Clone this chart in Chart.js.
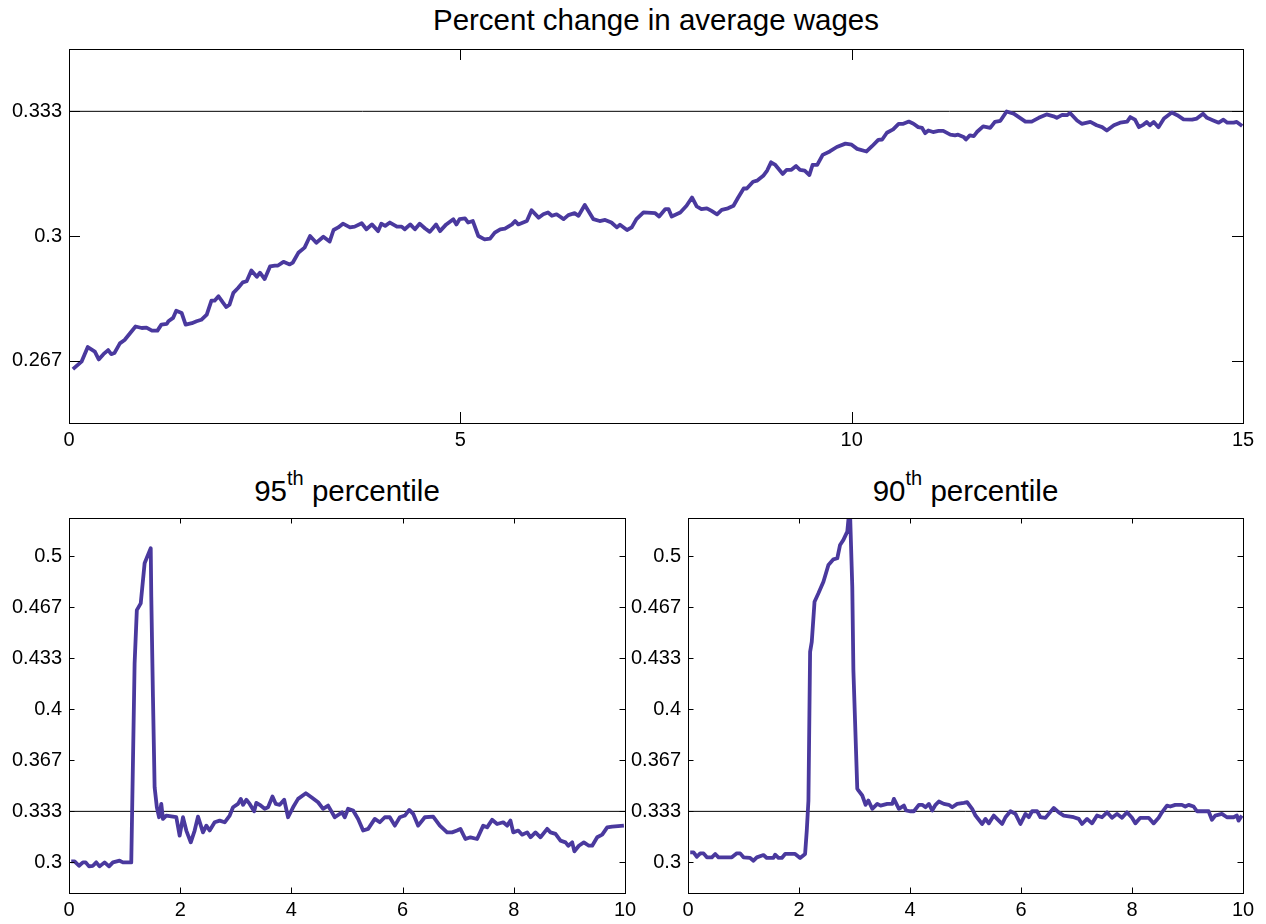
<!DOCTYPE html>
<html>
<head>
<meta charset="utf-8">
<script src="https://cdn.jsdelivr.net/npm/chart.js@4/dist/chart.umd.min.js"></script>
<style>
    body { margin: 0; background: #fff; width: 1266px; height: 924px; position: relative; overflow: hidden;
           font-family: "Liberation Sans", Arial, Helvetica, sans-serif; }
    .titulo { position: absolute; font-size: 29.5px; line-height: 29px; color: #000; text-align: center; white-space: nowrap; }
    .titulo sup { font-size: 20px; vertical-align: baseline; position: relative; top: -16px; line-height: 0; }
    canvas { position: absolute; }
</style>
</head>
<body>
<div class="titulo" style="left:69px;width:1174px;top:5px">Percent change in average wages</div>
<div class="titulo" style="left:69px;width:556px;top:476px">95<sup>th</sup> percentile</div>
<div class="titulo" style="left:688px;width:555px;top:476px">90<sup>th</sup> percentile</div>

<canvas id="graficoPromedio" width="1266" height="420" style="left:0;top:40px"></canvas>
<canvas id="grafico95" width="640" height="416" style="left:0;top:508px"></canvas>
<canvas id="grafico90" width="648" height="416" style="left:618px;top:508px"></canvas>

<script>
// Percent change in average wages (time 0..15)
const tiempoPromedio = [0.05,0.16,0.24,0.33,0.38,0.44,0.50,0.54,0.58,0.65,0.71,0.78,0.85,0.93,0.99,1.06,1.13,1.18,1.25,1.27,
    1.33,1.37,1.44,1.49,1.57,1.63,1.69,1.76,1.82,1.86,1.91,1.97,2.01,2.05,2.10,2.16,2.22,2.27,2.33,2.40,
    2.44,2.50,2.57,2.63,2.67,2.74,2.82,2.86,2.93,3.01,3.08,3.16,3.25,3.33,3.38,3.44,3.50,
    3.59,3.65,3.74,3.80,3.87,3.95,3.99,4.04,4.10,4.19,4.25,4.29,4.36,4.42,4.48,4.55,4.61,4.69,4.74,4.82,
    4.91,4.95,4.99,5.06,5.10,5.16,5.23,5.31,5.38,5.44,5.51,5.57,5.66,5.70,5.74,5.85,5.91,6.00,6.06,6.12,
    6.17,6.23,6.32,6.38,6.46,6.51,6.59,6.70,6.78,6.85,6.93,7.00,7.04,7.13,7.19,7.25,7.34,7.49,7.54,7.62,
    7.66,7.70,7.81,7.89,7.96,8.02,8.08,8.15,8.21,8.28,8.34,8.42,8.49,8.55,8.62,8.66,8.74,8.79,8.87,8.92,
    8.97,9.02,9.12,9.17,9.23,9.29,9.34,9.40,9.46,9.50,9.56,9.63,9.72,9.81,9.92,10.00,10.07,10.19,10.26,10.34,
    10.39,10.45,10.53,10.60,10.66,10.73,10.79,10.85,10.90,10.94,10.98,11.04,11.11,11.17,11.26,11.32,11.36,11.43,11.46,11.51,
    11.56,11.60,11.68,11.77,11.83,11.90,11.98,12.07,12.15,12.22,12.30,12.39,12.49,12.58,12.62,12.69,12.75,12.79,12.88,12.94,
    13.05,13.13,13.20,13.26,13.35,13.43,13.52,13.56,13.62,13.67,13.73,13.77,13.81,13.86,13.92,13.99,14.09,14.16,14.24,14.35,
    14.41,14.49,14.54,14.62,14.69,14.75,14.80,14.88,14.92,14.99];
const valorPromedio = [0.2644,0.2664,0.2703,0.2691,0.2670,0.2684,0.2695,0.2684,0.2687,0.2713,0.2722,0.2740,0.2758,0.2754,0.2755,0.2747,0.2747,0.2763,0.2765,0.2772,
    0.2781,0.2800,0.2794,0.2763,0.2767,0.2772,0.2776,0.2790,0.2827,0.2827,0.2839,0.2821,0.2810,0.2816,0.2848,0.2861,0.2876,0.2879,0.2908,0.2891,
    0.2902,0.2885,0.2919,0.2921,0.2921,0.2931,0.2924,0.2929,0.2955,0.2969,0.3000,0.2982,0.2998,0.2985,0.3016,0.3023,0.3033,
    0.3023,0.3025,0.3034,0.3018,0.3031,0.3013,0.3033,0.3027,0.3036,0.3025,0.3025,0.3018,0.3031,0.3018,0.3033,0.3020,0.3011,0.3031,0.3013,0.3031,
    0.3045,0.3031,0.3045,0.3047,0.3036,0.3040,0.3000,0.2991,0.2993,0.3009,0.3018,0.3020,0.3031,0.3040,0.3031,0.3040,0.3069,0.3049,0.3058,0.3063,
    0.3054,0.3058,0.3045,0.3056,0.3061,0.3054,0.3083,0.3045,0.3040,0.3043,0.3036,0.3023,0.3030,0.3016,0.3023,0.3045,0.3063,0.3061,0.3052,0.3072,
    0.3072,0.3052,0.3063,0.3081,0.3103,0.3079,0.3072,0.3074,0.3067,0.3058,0.3070,0.3074,0.3081,0.3103,0.3127,0.3127,0.3145,0.3148,0.3161,0.3175,
    0.3197,0.3191,0.3166,0.3177,0.3177,0.3187,0.3177,0.3175,0.3163,0.3190,0.3190,0.3217,0.3226,0.3238,0.3247,0.3244,0.3233,0.3226,0.3240,0.3257,
    0.3258,0.3276,0.3285,0.3300,0.3300,0.3306,0.3300,0.3291,0.3289,0.3275,0.3282,0.3278,0.3281,0.3281,0.3271,0.3269,0.3271,0.3265,0.3258,0.3269,
    0.3267,0.3278,0.3293,0.3289,0.3305,0.3308,0.3333,0.3327,0.3316,0.3306,0.3306,0.3316,0.3325,0.3320,0.3316,0.3324,0.3323,0.3329,0.3309,0.3300,
    0.3305,0.3296,0.3291,0.3282,0.3296,0.3303,0.3306,0.3318,0.3311,0.3291,0.3298,0.3305,0.3296,0.3305,0.3291,0.3314,0.3330,0.3323,0.3312,0.3311,
    0.3314,0.3327,0.3316,0.3309,0.3303,0.3311,0.3303,0.3303,0.3305,0.3294];

// 95th percentile (time 0..10)
const tiempo95 = [0.04,0.10,0.18,0.25,0.30,0.36,0.43,0.49,0.55,0.64,0.72,0.79,0.91,0.97,1.12,1.18,1.22,1.29,1.36,1.42,
    1.47,1.48,1.51,1.54,1.58,1.62,1.66,1.69,1.75,1.93,1.99,2.05,2.11,2.19,2.26,2.32,2.41,2.47,2.53,2.62,
    2.71,2.80,2.89,2.95,3.04,3.09,3.13,3.19,3.25,3.33,3.37,3.43,3.52,3.58,3.66,3.72,3.79,3.87,3.94,4.03,
    4.12,4.26,4.36,4.48,4.57,4.66,4.78,4.91,4.96,5.02,5.11,5.20,5.29,5.38,5.50,5.59,5.68,5.77,5.86,5.95,
    6.04,6.12,6.19,6.28,6.40,6.55,6.67,6.80,6.89,6.98,7.04,7.13,7.22,7.34,7.45,7.52,7.61,7.70,7.81,7.88,
    7.94,7.99,8.08,8.15,8.24,8.30,8.39,8.48,8.60,8.66,8.75,8.84,8.93,8.98,9.05,9.09,9.17,9.26,9.35,9.41,
    9.50,9.59,9.68,9.77,9.98];
const valor95 = [0.3007,0.3007,0.2978,0.3000,0.3000,0.2974,0.2978,0.3000,0.2974,0.3000,0.2974,0.3000,0.3011,0.3000,0.3000,0.4299,0.4648,0.4692,0.4954,0.5009,
    0.5052,0.4735,0.4081,0.3491,0.3360,0.3295,0.3382,0.3284,0.3306,0.3295,0.3175,0.3295,0.3208,0.3131,0.3208,0.3299,0.3196,0.3240,0.3208,0.3262,
    0.3273,0.3262,0.3306,0.3360,0.3382,0.3415,0.3376,0.3409,0.3382,0.3334,0.3389,0.3376,0.3350,0.3360,0.3430,0.3382,0.3376,0.3409,0.3295,0.3360,
    0.3415,0.3452,0.3426,0.3393,0.3350,0.3371,0.3295,0.3327,0.3295,0.3350,0.3339,0.3284,0.3208,0.3219,0.3284,0.3262,0.3295,0.3295,0.3240,0.3295,
    0.3306,0.3343,0.3317,0.3240,0.3295,0.3299,0.3240,0.3196,0.3196,0.3208,0.3219,0.3153,0.3164,0.3153,0.3240,0.3229,0.3278,0.3251,0.3262,0.3240,
    0.3273,0.3196,0.3208,0.3181,0.3196,0.3164,0.3196,0.3164,0.3219,0.3196,0.3186,0.3142,0.3131,0.3109,0.3131,0.3072,0.3109,0.3131,0.3109,0.3109,
    0.3164,0.3181,0.3229,0.3234,0.3240];

// 90th percentile (time 0..10)
const tiempo90 = [0.04,0.10,0.16,0.22,0.28,0.34,0.43,0.49,0.55,0.70,0.79,0.88,0.94,1.00,1.12,1.18,1.24,1.36,1.42,1.54,
    1.57,1.63,1.69,1.75,1.93,2.02,2.11,2.14,2.17,2.20,2.23,2.28,2.35,2.44,2.53,2.62,2.69,2.74,2.80,2.87,
    2.89,2.92,2.96,2.98,3.05,3.07,3.14,3.20,3.25,3.32,3.41,3.47,3.59,3.68,3.71,3.80,3.89,3.93,4.01,4.07,
    4.16,4.22,4.28,4.34,4.40,4.46,4.52,4.61,4.70,4.76,4.85,4.97,5.03,5.12,5.18,5.30,5.36,5.42,5.51,5.60,
    5.66,5.72,5.81,5.90,5.99,6.08,6.14,6.20,6.29,6.35,6.44,6.50,6.59,6.68,6.77,6.89,6.95,7.04,7.10,7.19,
    7.28,7.37,7.46,7.55,7.64,7.73,7.82,7.91,8.00,8.06,8.15,8.30,8.39,8.48,8.54,8.63,8.69,8.78,8.90,8.96,
    9.02,9.11,9.17,9.29,9.38,9.44,9.50,9.62,9.71,9.83,9.89,9.92,9.98];
const valor90 = [0.3065,0.3065,0.3037,0.3059,0.3059,0.3033,0.3033,0.3055,0.3033,0.3033,0.3033,0.3059,0.3059,0.3033,0.3029,0.3011,0.3033,0.3048,0.3029,0.3029,
    0.3050,0.3029,0.3029,0.3055,0.3055,0.3029,0.3055,0.3208,0.3404,0.4375,0.4441,0.4703,0.4758,0.4834,0.4943,0.4980,0.4987,0.5074,0.5107,0.5161,
    0.5238,0.5280,0.4801,0.4255,0.3481,0.3470,0.3437,0.3376,0.3404,0.3350,0.3382,0.3371,0.3382,0.3382,0.3415,0.3350,0.3371,0.3339,0.3334,0.3334,
    0.3376,0.3376,0.3360,0.3382,0.3339,0.3376,0.3398,0.3382,0.3376,0.3360,0.3382,0.3389,0.3393,0.3350,0.3306,0.3251,0.3284,0.3255,0.3306,0.3273,
    0.3251,0.3295,0.3334,0.3317,0.3251,0.3317,0.3295,0.3334,0.3334,0.3295,0.3291,0.3317,0.3356,0.3327,0.3306,0.3299,0.3295,0.3284,0.3251,0.3284,
    0.3255,0.3306,0.3295,0.3327,0.3291,0.3317,0.3291,0.3327,0.3291,0.3255,0.3291,0.3291,0.3255,0.3291,0.3327,0.3371,0.3365,0.3376,0.3376,0.3365,
    0.3376,0.3365,0.3334,0.3334,0.3334,0.3278,0.3306,0.3317,0.3295,0.3295,0.3306,0.3273,0.3306];

// ejes
const nivelReferencia = 1 / 3;
const ticksXPromedio = [0, 5, 10, 15];
const ticksXPercentil = [0, 2, 4, 6, 8, 10];
const ticksYPromedio = [0.26667, 0.3, 0.33333];
const etiquetasYPromedio = ['0.267', '0.3', '0.333'];
const ticksYPercentil = [0.3, 0.33333, 0.36667, 0.4, 0.43333, 0.46667, 0.5];
const etiquetasYPercentil = ['0.3', '0.333', '0.367', '0.4', '0.433', '0.467', '0.5'];

const colorLinea = '#4a399e';
const fuente = { family: '"Liberation Sans", Arial, Helvetica, sans-serif', size: 20 };

// caja del eje y marcas hacia adentro (estilo matlab)
const marcoEjes = {
    id: 'marcoEjes',
    afterDraw(chart, args, opts) {
        const { ctx, chartArea: a, scales } = chart;
        const largo = opts.largo || 10;
        ctx.save();
        ctx.strokeStyle = '#000';
        ctx.lineWidth = 1;
        ctx.beginPath();
        scales.x.ticks.forEach(t => {
            const px = Math.round(scales.x.getPixelForValue(t.value)) + 0.5;
            ctx.moveTo(px, a.bottom); ctx.lineTo(px, a.bottom - largo);
            ctx.moveTo(px, a.top); ctx.lineTo(px, a.top + largo);
        });
        scales.y.ticks.forEach(t => {
            const py = Math.round(scales.y.getPixelForValue(t.value)) + 0.5;
            ctx.moveTo(a.left, py); ctx.lineTo(a.left + largo, py);
            ctx.moveTo(a.right, py); ctx.lineTo(a.right - largo, py);
        });
        ctx.stroke();
        ctx.strokeRect(Math.round(a.left) + 0.5, Math.round(a.top) + 0.5,
                       Math.round(a.right - a.left), Math.round(a.bottom - a.top));
        ctx.restore();
    }
};

function crearGrafico(id, tiempos, valores, cfg) {
    const puntos = tiempos.map((t, i) => ({ x: t, y: valores[i] }));
    const referencia = [{ x: 0, y: nivelReferencia }, { x: cfg.xMax, y: nivelReferencia }];

    return new Chart(document.getElementById(id), {
        type: 'line',
        data: {
            datasets: [
                {
                    data: puntos,
                    borderColor: colorLinea,
                    borderWidth: 3.8,
                    borderJoinStyle: 'round',
                    pointRadius: 0,
                    tension: 0,
                    clip: 0
                },
                {
                    data: referencia,
                    borderColor: '#000',
                    borderWidth: 1,
                    pointRadius: 0
                }
            ]
        },
        options: {
            responsive: false,
            animation: false,
            devicePixelRatio: 1,
            layout: { padding: { top: cfg.arriba, right: cfg.derecha, left: 0, bottom: 0 } },
            plugins: {
                legend: { display: false },
                tooltip: { enabled: false },
                marcoEjes: { largo: cfg.largoMarca }
            },
            scales: {
                x: {
                    type: 'linear',
                    min: 0,
                    max: cfg.xMax,
                    grid: { display: false, drawTicks: false },
                    border: { display: false },
                    afterBuildTicks: s => { s.ticks = cfg.ticksX.map(v => ({ value: v })); },
                    afterFit: s => { s.height = cfg.altoX; s.paddingLeft = 0; s.paddingRight = 0; },
                    ticks: { padding: cfg.sepX, color: '#000', font: fuente, maxRotation: 0, autoSkip: false,
                             callback: v => String(v) }
                },
                y: {
                    type: 'linear',
                    min: cfg.yMin,
                    max: cfg.yMax,
                    grid: { display: false, drawTicks: false },
                    border: { display: false },
                    afterBuildTicks: s => { s.ticks = cfg.ticksY.map(v => ({ value: v })); },
                    afterFit: s => { s.width = cfg.anchoY; s.paddingTop = 0; s.paddingBottom = 0; },
                    ticks: { padding: 7, color: '#000', font: fuente, autoSkip: false,
                             callback: (v, i) => cfg.etiquetasY[i] }
                }
            }
        },
        plugins: [marcoEjes]
    });
}

crearGrafico('graficoPromedio', tiempoPromedio, valorPromedio, {
    xMax: 15, yMin: 0.25, yMax: 0.35,
    ticksX: ticksXPromedio, ticksY: ticksYPromedio, etiquetasY: etiquetasYPromedio,
    arriba: 9, derecha: 23, anchoY: 69, altoX: 37, sepX: 5, largoMarca: 11
});

crearGrafico('grafico95', tiempo95, valor95, {
    xMax: 10, yMin: 0.28, yMax: 0.525,
    ticksX: ticksXPercentil, ticksY: ticksYPercentil, etiquetasY: etiquetasYPercentil,
    arriba: 10, derecha: 15, anchoY: 69, altoX: 31, sepX: 5, largoMarca: 5.5
});

crearGrafico('grafico90', tiempo90, valor90, {
    xMax: 10, yMin: 0.28, yMax: 0.525,
    ticksX: ticksXPercentil, ticksY: ticksYPercentil, etiquetasY: etiquetasYPercentil,
    arriba: 10, derecha: 23, anchoY: 70, altoX: 31, sepX: 5, largoMarca: 5.5
});
</script>
</body>
</html>
